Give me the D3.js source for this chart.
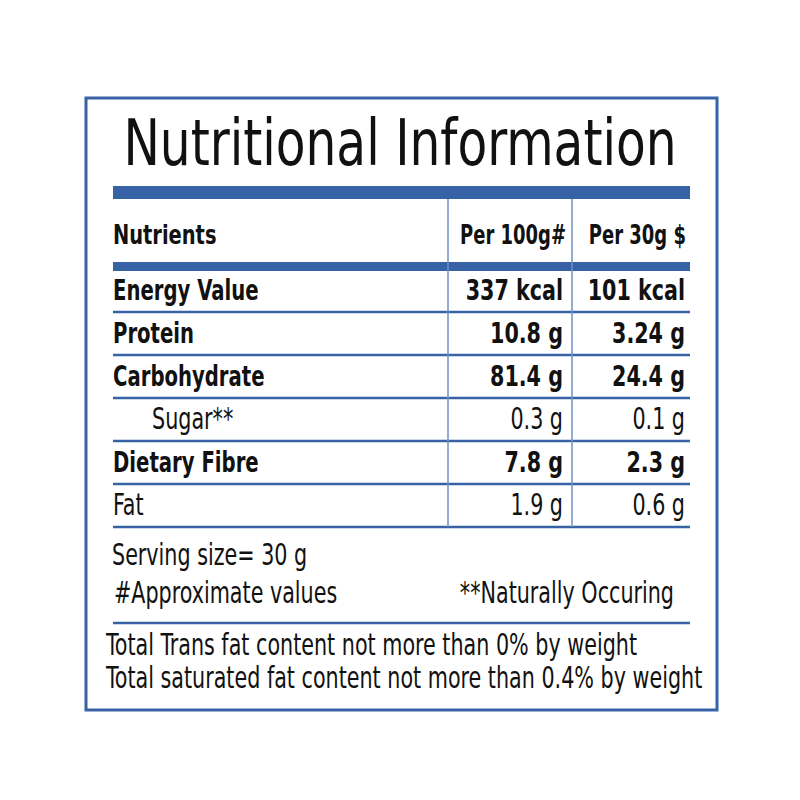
<!DOCTYPE html>
<html>
<head>
<meta charset="utf-8">
<script src="https://cdn.jsdelivr.net/npm/d3@7/dist/d3.min.js"></script>
<style>
  body { margin: 0; background: #fff; }
  text { font-family: "DejaVu Sans Condensed", "Liberation Sans Narrow", sans-serif; fill: #111; }
</style>
</head>
<body>
<div id="vis"></div>
<script>
// table data
var nutrients = ['Energy Value', 'Protein', 'Carbohydrate', 'Sugar**', 'Dietary Fibre', 'Fat'];
var per100g = ['337 kcal', '10.8 g', '81.4 g', '0.3 g', '7.8 g', '1.9 g'];
var per30g = ['101 kcal', '3.24 g', '24.4 g', '0.1 g', '2.3 g', '0.6 g'];
var boldRows = [true, true, true, false, true, false];
var indentRows = [false, false, false, true, false, false];
var headers = ['Nutrients', 'Per 100g#', 'Per 30g $'];
var notes = ['Serving size= 30 g', '#Approximate values', '**Naturally Occuring'];
var footer = ['Total Trans fat content not more than 0% by weight',
              'Total saturated fat content not more than 0.4% by weight'];

var width = 800, height = 800;
var blue = '#3763a6';
var thinBlue = '#7090c2';

var svg = d3.select('#vis').append('svg')
  .attr('width', width)
  .attr('height', height);

// text helper: condensed look via horizontal squeeze around the anchor point
function addText(parent, x, y, str, size, bold, anchor, sx) {
  return parent.append('text')
    .attr('transform', 'translate(' + x + ',' + y + ') scale(' + sx + ',1)')
    .attr('text-anchor', anchor || 'start')
    .style('font-size', size + 'px')
    .style('font-weight', bold ? 'bold' : 'normal')
    .text(str);
}

var REG_SIZE = 30, BOLD_SIZE = 27.5;
var REG = 0.767;

// outer frame
svg.append('rect')
  .attr('x', 86).attr('y', 98)
  .attr('width', 631).attr('height', 612)
  .attr('fill', 'none')
  .attr('stroke', blue)
  .attr('stroke-width', 3);

var left = 113, right = 690;
var col1 = 448, col2 = 572;

// title
addText(svg, 400, 165, 'Nutritional Information', 64, false, 'middle', 0.845);

// thick bars
svg.append('rect').attr('x', left).attr('y', 186).attr('width', right - left).attr('height', 13).attr('fill', blue);
svg.append('rect').attr('x', left).attr('y', 262).attr('width', right - left).attr('height', 9).attr('fill', blue);

// header row
addText(svg, left, 244, headers[0], 27, true, 'start', 0.8);
addText(svg, 566, 244, headers[1], 27, true, 'end', 0.74);
addText(svg, 686, 244, headers[2], 27, true, 'end', 0.74);

// body rows via band scale
var y = d3.scaleBand()
  .domain(d3.range(nutrients.length))
  .range([269, 527])
  .paddingInner(0).paddingOuter(0);

var rows = svg.selectAll('.row')
  .data(nutrients)
  .enter().append('g')
  .attr('class', 'row')
  .attr('transform', function(d, i) { return 'translate(0,' + y(i) + ')'; });

rows.append('line')
  .attr('x1', left).attr('x2', right)
  .attr('y1', y.bandwidth()).attr('y2', y.bandwidth())
  .attr('stroke', blue).attr('stroke-width', 2.5);

rows.each(function(d, i) {
  var row = d3.select(this);
  var b = boldRows[i];
  var base = y.bandwidth() - 12;
  var size = b ? BOLD_SIZE : REG_SIZE;
  addText(row, indentRows[i] ? 152 : left, base, d, size, b, 'start', b ? 0.795 : REG);
  addText(row, 563, base, per100g[i], size, b, 'end', b ? 0.836 : REG);
  addText(row, 685, base, per30g[i], size, b, 'end', b ? 0.836 : REG);
});

// column dividers
[col1, col2].forEach(function(cx) {
  svg.append('line')
    .attr('x1', cx).attr('x2', cx)
    .attr('y1', 199).attr('y2', 527)
    .attr('stroke', thinBlue).attr('stroke-width', 1.5);
});

// notes
addText(svg, 112, 565, notes[0], REG_SIZE, false, 'start', REG);
addText(svg, 114, 603, notes[1], REG_SIZE, false, 'start', REG);
addText(svg, 674, 603, notes[2], REG_SIZE, false, 'end', REG);

svg.append('line')
  .attr('x1', left).attr('x2', right)
  .attr('y1', 623).attr('y2', 623)
  .attr('stroke', blue).attr('stroke-width', 2.5);

// footer
footer.forEach(function(d, i) {
  addText(svg, 106, 655 + i * 33, d, REG_SIZE, false, 'start', REG);
});
</script>
</body>
</html>
